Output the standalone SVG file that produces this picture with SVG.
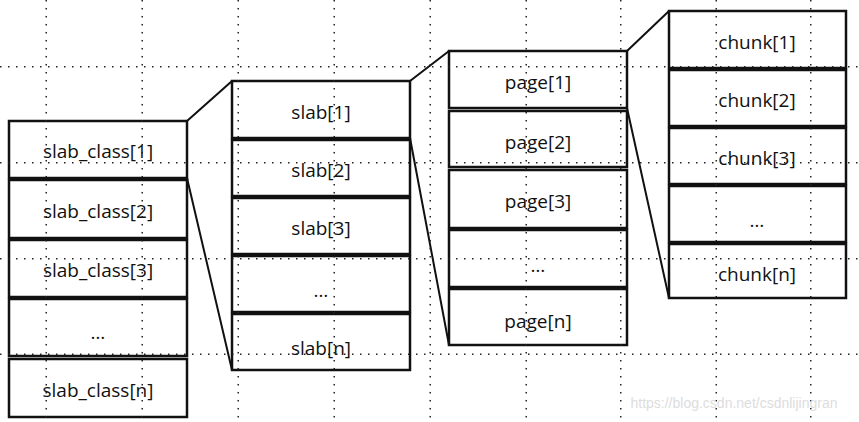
<svg xmlns="http://www.w3.org/2000/svg" width="859" height="422" viewBox="0 0 859 422">
<defs>
<pattern id="dh" width="8" height="2" patternUnits="userSpaceOnUse"><rect width="1.5" height="1.5" fill="#222"/></pattern>
<pattern id="dv" width="2" height="8" patternUnits="userSpaceOnUse"><rect width="1.5" height="1.5" fill="#222"/></pattern>
</defs>
<style>
.b{fill:#fff;stroke:#111;stroke-width:2.5}
text{font-family:"Open Sans","Liberation Sans",sans-serif;font-size:19px;fill:#111;text-anchor:middle}
.c{stroke:#111;stroke-width:2;fill:none}
</style>
<rect width="859" height="422" fill="#fff"/>
<g id="connectors">
<path class="c" d="M187 121L232 81M187 178L232 370M410 81L449 51M410 138L449 345M627 51L669 11M627 108L669 298"/>
</g>
<g id="col1">
<g id="sc1"><rect class="b" x="9" y="121" width="178" height="57"/><text x="98" y="158">slab_class[1]</text></g>
<g id="sc2"><rect class="b" x="9" y="180" width="178" height="58"/><text x="98" y="218">slab_class[2]</text></g>
<g id="sc3"><rect class="b" x="9" y="240" width="178" height="57"/><text x="98" y="277">slab_class[3]</text></g>
<g id="sc4"><rect class="b" x="9" y="299" width="178" height="57"/><text x="98" y="339">…</text></g>
<g id="scn"><rect class="b" x="9" y="359" width="178" height="58"/><text x="98" y="397">slab_class[n]</text></g>
</g>
<g id="col2">
<g id="s1"><rect class="b" x="232" y="81" width="178" height="57"/><text x="321" y="119">slab[1]</text></g>
<g id="s2"><rect class="b" x="232" y="140" width="178" height="56"/><text x="321" y="177">slab[2]</text></g>
<g id="s3"><rect class="b" x="232" y="198" width="178" height="56"/><text x="321" y="235">slab[3]</text></g>
<g id="s4"><rect class="b" x="232" y="256" width="178" height="56"/><text x="321" y="297">…</text></g>
<g id="sn"><rect class="b" x="232" y="314" width="178" height="56"/><text x="321" y="355">slab[n]</text></g>
</g>
<g id="col3">
<g id="p1"><rect class="b" x="449" y="51" width="178" height="57"/><text x="538" y="89">page[1]</text></g>
<g id="p2"><rect class="b" x="449" y="111" width="178" height="56"/><text x="538" y="149">page[2]</text></g>
<g id="p3"><rect class="b" x="449" y="170" width="178" height="58"/><text x="538" y="208">page[3]</text></g>
<g id="p4"><rect class="b" x="449" y="230" width="178" height="57"/><text x="538" y="272">…</text></g>
<g id="pn"><rect class="b" x="449" y="289" width="178" height="56"/><text x="538" y="328">page[n]</text></g>
</g>
<g id="col4">
<g id="c1"><rect class="b" x="669" y="11" width="177" height="57"/><text x="757" y="49">chunk[1]</text></g>
<g id="c2"><rect class="b" x="669" y="70" width="177" height="56"/><text x="757" y="107">chunk[2]</text></g>
<g id="c3"><rect class="b" x="669" y="128" width="177" height="56"/><text x="757" y="165">chunk[3]</text></g>
<g id="c4"><rect class="b" x="669" y="186" width="177" height="56"/><text x="757" y="227">…</text></g>
<g id="cn"><rect class="b" x="669" y="244" width="177" height="54"/><text x="757" y="281">chunk[n]</text></g>
</g>
<g id="grid">
<rect x="0" y="66" width="859" height="2" fill="url(#dh)"/>
<rect x="0" y="162" width="859" height="2" fill="url(#dh)"/>
<rect x="0" y="258" width="859" height="2" fill="url(#dh)"/>
<rect x="0" y="353" width="859" height="2" fill="url(#dh)"/>
<rect x="45" y="0" width="2" height="422" fill="url(#dv)"/>
<rect x="141" y="0" width="2" height="422" fill="url(#dv)"/>
<rect x="237" y="0" width="2" height="422" fill="url(#dv)"/>
<rect x="333" y="0" width="2" height="422" fill="url(#dv)"/>
<rect x="429" y="0" width="2" height="422" fill="url(#dv)"/>
<rect x="525" y="0" width="2" height="422" fill="url(#dv)"/>
<rect x="620" y="0" width="2" height="422" fill="url(#dv)"/>
<rect x="715" y="0" width="2" height="422" fill="url(#dv)"/>
<rect x="810" y="0" width="2" height="422" fill="url(#dv)"/>
</g>
<text x="734" y="408" style="font-family:'Liberation Sans',sans-serif;font-size:14px;fill:#ddd">https://blog.csdn.net/csdnlijingran</text>
</svg>
